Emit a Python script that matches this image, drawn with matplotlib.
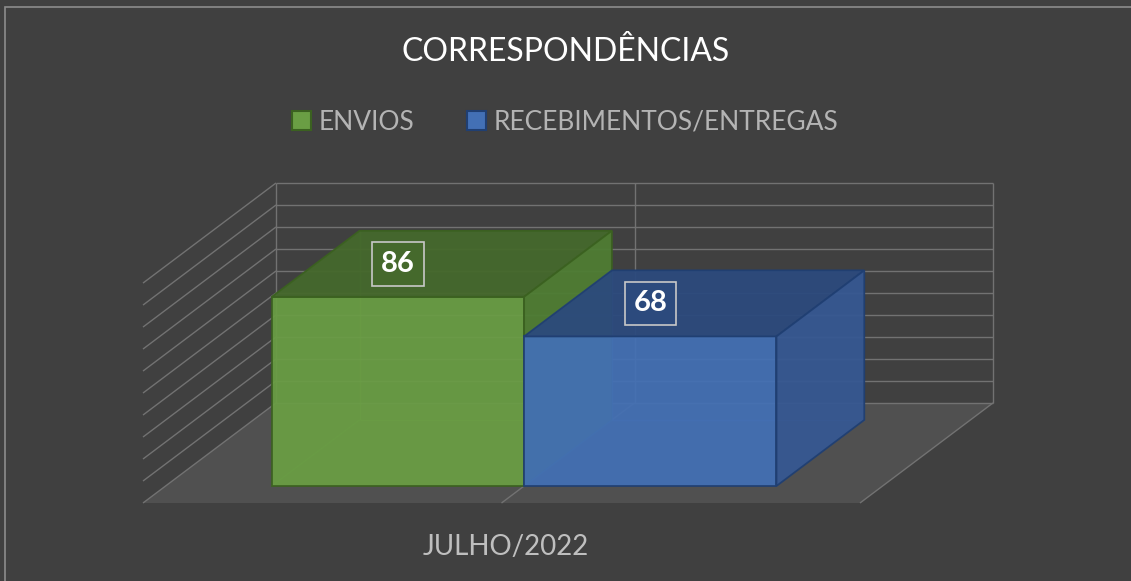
import matplotlib
matplotlib.use("Agg")
import matplotlib.pyplot as plt
from matplotlib.patches import Polygon, Rectangle

# chart data
title = "CORRESPONDÊNCIAS"
category = "JULHO/2022"
series_names = ["ENVIOS", "RECEBIMENTOS/ENTREGAS"]
series_values = [86, 68]
y_ticks = list(range(0, 101, 10))

# colours
front_colors = ["#6a9e44", "#4370b5"]
top_colors = ["#45692c", "#2c4a7d"]
side_colors = ["#4f7d33", "#365892"]
edge_colors = ["#3b6120", "#203f72"]
BG = "#404040"
FLOOR = "#505050"
GRID = "#727272"

# fake 3d: depth d in [0, 1] pushes things right and up
DX = 0.1855   # category units per unit of depth
DY = 45.5     # value units per unit of depth
Y_MAX = 100
GAP = 0.148
D0, D1 = 0.17, 0.83

plt.rcParams['font.family'] = ['Lato', 'DejaVu Sans']


def proj(u, v, d):
    return (u + d * DX, v + d * DY)


def face(ax, pts, fc, ec, alpha=1.0, lw=1.0, z=2):
    ax.add_patch(Polygon([proj(*p) for p in pts], closed=True, facecolor=fc,
                         edgecolor=ec, lw=lw, alpha=alpha, zorder=z, clip_on=False))


def line(ax, p0, p1, color=GRID, lw=1.0, alpha=1.0, z=1):
    a, b = proj(*p0), proj(*p1)
    ax.plot([a[0], b[0]], [a[1], b[1]], color=color, lw=lw, alpha=alpha,
            zorder=z, clip_on=False, solid_capstyle='butt')


fig = plt.figure(figsize=(11.31, 5.81), dpi=100, facecolor=BG)
# thin frame of the chart area, cut by the right and bottom edges of the image
fig.patches.append(Rectangle((5 / 1131, -0.05), 1.1, 1 - 7 / 581 + 0.05,
                             transform=fig.transFigure, fill=False,
                             ec="#8c8c8c", lw=1.2))

ax = fig.add_axes([143 / 1131, 78 / 581, 850 / 1131, 320 / 581])
ax.set_xlim(0, 1 + DX)
ax.set_ylim(0, Y_MAX + DY)
ax.axis("off")

# floor
face(ax, [(0, 0, 0), (1, 0, 0), (1, 0, 1), (0, 0, 1)], FLOOR, "none", z=0)
line(ax, (1, 0, 0), (1, 0, 1))
line(ax, (0.5, 0, 0), (0.5, 0, 1))

# walls with gridlines
for v in y_ticks:
    line(ax, (0, v, 0), (0, v, 1))
    line(ax, (0, v, 1), (1, v, 1))
for u in [0, 0.5, 1]:
    line(ax, (u, 0, 1), (u, Y_MAX, 1))

# bars
w = (1 - 2 * GAP) / len(series_values)
for i, val in enumerate(series_values):
    u0 = GAP + i * w
    u1 = u0 + w
    z = 3 + i * 2
    ec = edge_colors[i]
    # hidden edges, seen through the glassy faces
    line(ax, (u0, 0, D1), (u0, val, D1), color=front_colors[i], lw=1, alpha=0.5, z=z)
    line(ax, (u0, 0, D0), (u0, 0, D1), color=front_colors[i], lw=1, alpha=0.5, z=z)
    line(ax, (u0, 0, D1), (u1, 0, D1), color=front_colors[i], lw=1, alpha=0.5, z=z)
    face(ax, [(u0, 0, D0), (u1, 0, D0), (u1, val, D0), (u0, val, D0)],
         front_colors[i], ec, alpha=0.93, lw=1.3, z=z + 1)
    face(ax, [(u0, val, D0), (u1, val, D0), (u1, val, D1), (u0, val, D1)],
         top_colors[i], ec, alpha=0.95, lw=1.3, z=z + 1)
    face(ax, [(u1, 0, D0), (u1, 0, D1), (u1, val, D1), (u1, val, D0)],
         side_colors[i], ec, alpha=0.95, lw=1.3, z=z + 1)

    # data label: x of the front face centre, y of the top face centre
    lx, _ = proj((u0 + u1) / 2, 0, D0)
    _, ly = proj(0, val, 0.5)
    ax.text(lx, ly, str(val), ha="center", va="center", fontsize=21,
            fontweight="bold", color="white", zorder=10,
            bbox=dict(boxstyle="square,pad=0.3", fc=top_colors[i], ec="#c8c8c8", lw=1.2))

# category label under the floor
cx, cy = proj(0.5, 0, 0)
ax.annotate(category, xy=(cx, cy), xytext=(3, -32), textcoords="offset points",
            ha="center", va="center", fontsize=20, color="#bfbfbf", annotation_clip=False)

# title and legend
fig.text(0.5, 1 - 52 / 581, title, ha="center", va="center", fontsize=23, color="white")
handles = [Rectangle((0, 0), 1, 1, fc=front_colors[i], ec=edge_colors[i], lw=1.5)
           for i in range(len(series_names))]
fig.legend(handles, series_names, loc="center", bbox_to_anchor=(0.5, 1 - 122 / 581),
           ncol=2, frameon=False, fontsize=19, labelcolor="#b4b4b4",
           handlelength=0.7, handleheight=0.7, handletextpad=0.3, columnspacing=2.0)

fig.savefig("out.png", dpi=100, facecolor=BG)
